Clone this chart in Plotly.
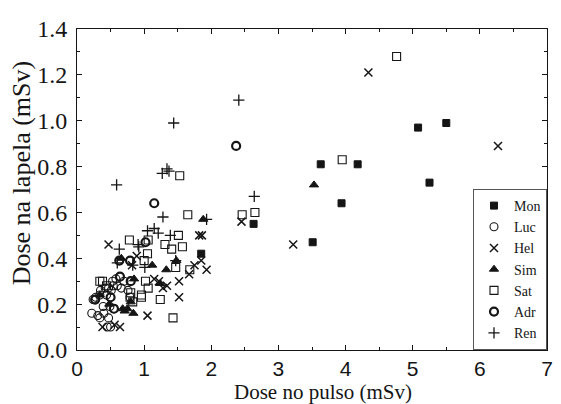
import plotly.graph_objects as go

# dose on the wrist (x) vs dose on the lapel (y), mSv
mon_x = [2.63, 3.63, 4.18, 5.08, 5.50, 5.25, 3.94, 3.51, 1.85]
mon_y = [0.55, 0.81, 0.81, 0.97, 0.99, 0.73, 0.64, 0.47, 0.42]

luc_x = [0.22, 0.31, 0.24, 0.28, 0.34, 0.39, 0.49, 0.34, 0.47, 0.45, 0.50, 0.53, 0.54,
         0.47, 0.60, 0.51, 0.66, 0.42, 0.76, 0.79, 0.44, 0.58, 0.55, 0.40, 0.70, 0.35]
luc_y = [0.16, 0.15, 0.22, 0.23, 0.24, 0.19, 0.19, 0.14, 0.14, 0.10, 0.10, 0.30, 0.28,
         0.27, 0.28, 0.26, 0.27, 0.27, 0.26, 0.23, 0.24, 0.31, 0.18, 0.16, 0.30, 0.26]

hel_x = [4.34, 6.27, 3.22, 2.45, 1.82, 1.86, 1.93, 1.85, 1.75, 1.67, 1.52, 1.52, 1.34,
         1.28, 1.15, 1.05, 0.47, 0.89, 0.38, 0.64, 0.56, 0.82, 1.22]
hel_y = [1.21, 0.89, 0.46, 0.56, 0.50, 0.50, 0.35, 0.39, 0.37, 0.33, 0.30, 0.23, 0.28,
         0.27, 0.31, 0.15, 0.46, 0.41, 0.10, 0.10, 0.11, 0.37, 0.30]

sim_x = [3.53, 1.88, 1.48, 1.33, 1.12, 0.85, 0.66, 0.71, 0.84, 0.75, 0.68, 1.24, 0.48, 0.34, 0.80]
sim_y = [0.72, 0.57, 0.39, 0.35, 0.37, 0.31, 0.40, 0.17, 0.16, 0.18, 0.18, 0.29, 0.20, 0.24, 0.21]

sat_x = [4.76, 3.95, 2.65, 2.46, 1.53, 1.65, 1.51, 1.31, 1.41, 1.57, 1.47, 1.68, 1.43, 1.24,
         1.05, 1.00, 1.06, 1.02, 0.96, 0.96, 0.78, 1.06, 0.34, 0.38, 0.80, 0.79, 0.83, 0.44]
sat_y = [1.28, 0.83, 0.60, 0.59, 0.76, 0.59, 0.50, 0.46, 0.44, 0.45, 0.36, 0.35, 0.14, 0.22,
         0.42, 0.39, 0.27, 0.30, 0.24, 0.23, 0.48, 0.48, 0.30, 0.30, 0.25, 0.23, 0.21, 0.28]

adr_x = [2.37, 1.15, 1.02, 0.79, 0.63, 0.80, 0.64, 0.50, 0.27, 0.55]
adr_y = [0.89, 0.64, 0.47, 0.39, 0.39, 0.30, 0.32, 0.23, 0.22, 0.18]

ren_x = [2.41, 1.44, 0.59, 1.27, 1.34, 1.37, 2.64, 1.28, 1.93, 1.05, 1.15, 1.21, 1.39,
         0.91, 0.92, 0.63, 0.60, 0.83, 1.01, 1.47]
ren_y = [1.09, 0.99, 0.72, 0.77, 0.79, 0.78, 0.67, 0.58, 0.57, 0.52, 0.53, 0.51, 0.50,
         0.46, 0.45, 0.44, 0.38, 0.37, 0.36, 0.39]

INK = "#151515"
SERIF = "Liberation Serif"
SANS = "Liberation Sans"

series = [
    ("Mon", mon_x, mon_y, "square", 7, 1),
    ("Luc", luc_x, luc_y, "circle-open", 8, 1.1),
    ("Hel", hel_x, hel_y, "x-thin-open", 8, 1.5),
    ("Sim", sim_x, sim_y, "triangle-up", 8, 1),
    ("Sat", sat_x, sat_y, "square-open", 8, 1.1),
    ("Adr", adr_x, adr_y, "circle-open", 8, 2.2),
    ("Ren", ren_x, ren_y, "cross-thin-open", 8, 1.3),
]

fig = go.Figure()
for name, xs, ys, sym, size, lw in series:
    fig.add_trace(go.Scatter(
        x=xs, y=ys, mode="markers", name=name,
        marker=dict(symbol=sym, size=size, color=INK, line=dict(color=INK, width=lw)),
    ))

axis_common = dict(
    showline=True, linecolor=INK, linewidth=1, mirror="ticks",
    ticks="inside", ticklen=5, tickcolor=INK, showgrid=False, zeroline=False,
)

fig.update_xaxes(range=[0, 7], dtick=1, tickformat="d", ticklabelstandoff=0,
                 minor=dict(dtick=0.5, ticks="inside", ticklen=3, tickcolor=INK),
                 tickfont=dict(family=SANS, size=21, color=INK), **axis_common)
fig.update_yaxes(range=[0, 1.4], dtick=0.2, tickformat=".1f", ticklabelstandoff=4,
                 minor=dict(dtick=0.1, ticks="inside", ticklen=3, tickcolor=INK),
                 tickfont=dict(family=SERIF, size=24, color=INK), **axis_common)

fig.add_annotation(text="Dose no pulso (mSv)", xref="paper", yref="paper",
                   x=0.523, y=-0.131, showarrow=False, xanchor="center", yanchor="middle",
                   font=dict(family=SERIF, size=21, color=INK))
fig.add_annotation(text="Dose na lapela (mSv)", xref="paper", yref="paper",
                   x=-0.118, y=0.552, showarrow=False, textangle=-90,
                   xanchor="center", yanchor="middle",
                   font=dict(family=SERIF, size=26, color=INK))

# page has an 8px body margin, so the figure is 8px smaller than the window
fig.update_layout(
    width=553, height=396,
    margin=dict(l=69, r=8, t=16, b=54),
    plot_bgcolor="white", paper_bgcolor="white",
    legend=dict(x=1, y=0, xanchor="right", yanchor="bottom",
                bgcolor="white", bordercolor="#555", borderwidth=1,
                font=dict(family=SERIF, size=14, color=INK),
                tracegroupgap=0, itemwidth=30),
)

fig.write_html("out.html")
